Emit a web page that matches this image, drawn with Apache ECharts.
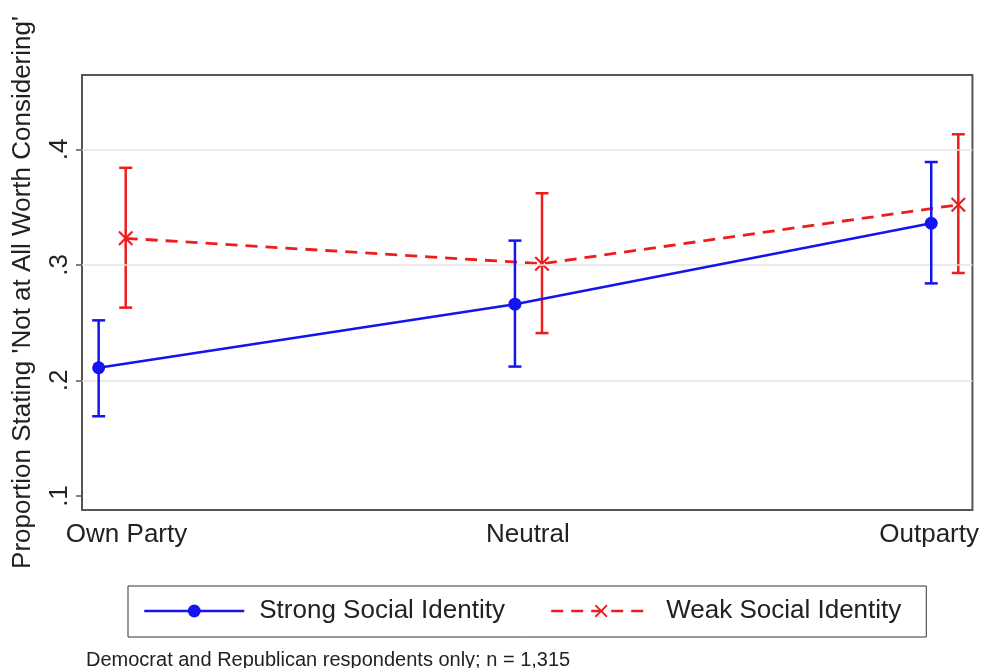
<!DOCTYPE html>
<html>
<head>
<meta charset="utf-8">
<script src="https://cdn.jsdelivr.net/npm/echarts@6/dist/echarts.min.js"></script>
<style>html,body{margin:0;padding:0;background:#fff;}#c{width:982px;height:668px;}</style>
</head>
<body>
<div id="c"></div>
<script>
// ---- data ----
const categories = ['Own Party', 'Neutral', 'Outparty'];
const strongMean = [0.211, 0.266, 0.336];
const strongLo   = [0.169, 0.212, 0.284];
const strongHi   = [0.252, 0.321, 0.389];
const weakMean   = [0.323, 0.301, 0.352];
const weakLo     = [0.263, 0.241, 0.293];
const weakHi     = [0.384, 0.362, 0.413];
const yTicks     = [0.1, 0.2, 0.3, 0.4];
const gridVals   = [0.2, 0.3, 0.4];
const seriesNames = ['Strong Social Identity', 'Weak Social Identity'];
const note = 'Democrat and Republican respondents only; n = 1,315';
const yTitle = "Proportion Stating 'Not at All Worth Considering'";

// ---- layout helpers ----
const dodge = [0, 0.065];
const labelShift = [0.067, 0.031, -0.005];
const BLUE = '#1414f0', RED = '#f01c1c';
const xs = (k) => categories.map((c, i) => i + 1 + dodge[k]);
const pts = (k, m) => m.map((v, i) => [xs(k)[i], v]);
const bars = (k, lo, hi) => lo.map((v, i) => [xs(k)[i], v, hi[i]]);
const xMark = 'path://M1,0 L5,4 L9,0 L10,1 L6,5 L10,9 L9,10 L5,6 L1,10 L0,9 L4,5 L0,1 Z';

function errRender(color) {
  return function (params, api) {
    const x = api.value(0), lo = api.value(1), hi = api.value(2);
    const a = api.coord([x, hi]), b = api.coord([x, lo]);
    const w = 6.5;
    const st = { stroke: color, lineWidth: 2.5 };
    return { type: 'group', children: [
      { type: 'line', shape: { x1: a[0], y1: a[1], x2: b[0], y2: b[1] }, style: st },
      { type: 'line', shape: { x1: a[0]-w, y1: a[1], x2: a[0]+w, y2: a[1] }, style: st },
      { type: 'line', shape: { x1: b[0]-w, y1: b[1], x2: b[0]+w, y2: b[1] }, style: st }
    ]};
  };
}

const chart = echarts.init(document.getElementById('c'), null, { renderer: 'canvas' });
const FONT = 'Liberation Sans, Arial, sans-serif';
chart.setOption({
  backgroundColor: '#fff',
  animation: false,
  textStyle: { fontFamily: FONT },
  title: {
    text: note, left: 86, top: 650, padding: 0,
    textStyle: { fontSize: 20, fontWeight: 'normal', color: '#222', fontFamily: FONT }
  },
  grid: { left: 82, right: 8, top: 75, bottom: 158, show: true, borderColor: '#555', borderWidth: 2, backgroundColor: '#fff' },
  legend: {
    data: seriesNames,
    left: 128, top: 586,
    padding: [12, 25, 13, 15],
    borderColor: '#333', borderWidth: 1,
    itemWidth: 100, itemHeight: 16, itemGap: 45,
    lineStyle: { width: 2.5 },
    textStyle: { fontSize: 26, color: '#222', padding: [0, 0, 0, 10], fontFamily: FONT }
  },
  xAxis: {
    type: 'value', min: 0.96, max: 3.099,
    splitLine: { show: false },
    axisLine: { show: false },
    axisTick: { show: false },
    axisLabel: {
      customValues: categories.map((c, i) => i + 1 + labelShift[i]),
      formatter: (v) => categories[Math.round(v) - 1],
      fontSize: 26, color: '#222', margin: 12
    }
  },
  yAxis: {
    type: 'value', min: 0.0879, max: 0.4643,
    name: yTitle, nameLocation: 'middle', nameRotate: 90, nameGap: 46,
    nameTextStyle: { fontSize: 26, color: '#222' },
    splitLine: { show: false },
    axisLine: { show: true, lineStyle: { color: '#555', width: 2 } },
    axisTick: { show: true, customValues: yTicks, length: 6, lineStyle: { color: '#555', width: 1.5 } },
    axisLabel: {
      customValues: yTicks, rotate: 90, fontSize: 26, color: '#222', margin: 9,
      formatter: (v) => '.' + Math.round(v * 10)
    }
  },
  series: [
    {
      type: 'line', name: '_grid', data: [], silent: true,
      markLine: {
        silent: true, symbol: 'none', label: { show: false },
        lineStyle: { color: '#e3e3e3', width: 1.5, type: 'solid' },
        data: gridVals.map(v => ({ yAxis: v }))
      }, z: 1
    },
    {
      type: 'custom', name: '_errWeak', renderItem: errRender(RED),
      data: bars(1, weakLo, weakHi), z: 3
    },
    {
      type: 'line', name: seriesNames[1], data: pts(1, weakMean),
      symbol: xMark, symbolSize: 15, itemStyle: { color: RED },
      lineStyle: { color: RED, width: 2.8, type: [12, 8] }, z: 4
    },
    {
      type: 'custom', name: '_errStrong', renderItem: errRender(BLUE),
      data: bars(0, strongLo, strongHi), z: 5
    },
    {
      type: 'line', name: seriesNames[0], data: pts(0, strongMean),
      symbol: 'circle', symbolSize: 13, itemStyle: { color: BLUE },
      lineStyle: { color: BLUE, width: 2.5 }, z: 6
    }
  ]
});
</script>
</body>
</html>
